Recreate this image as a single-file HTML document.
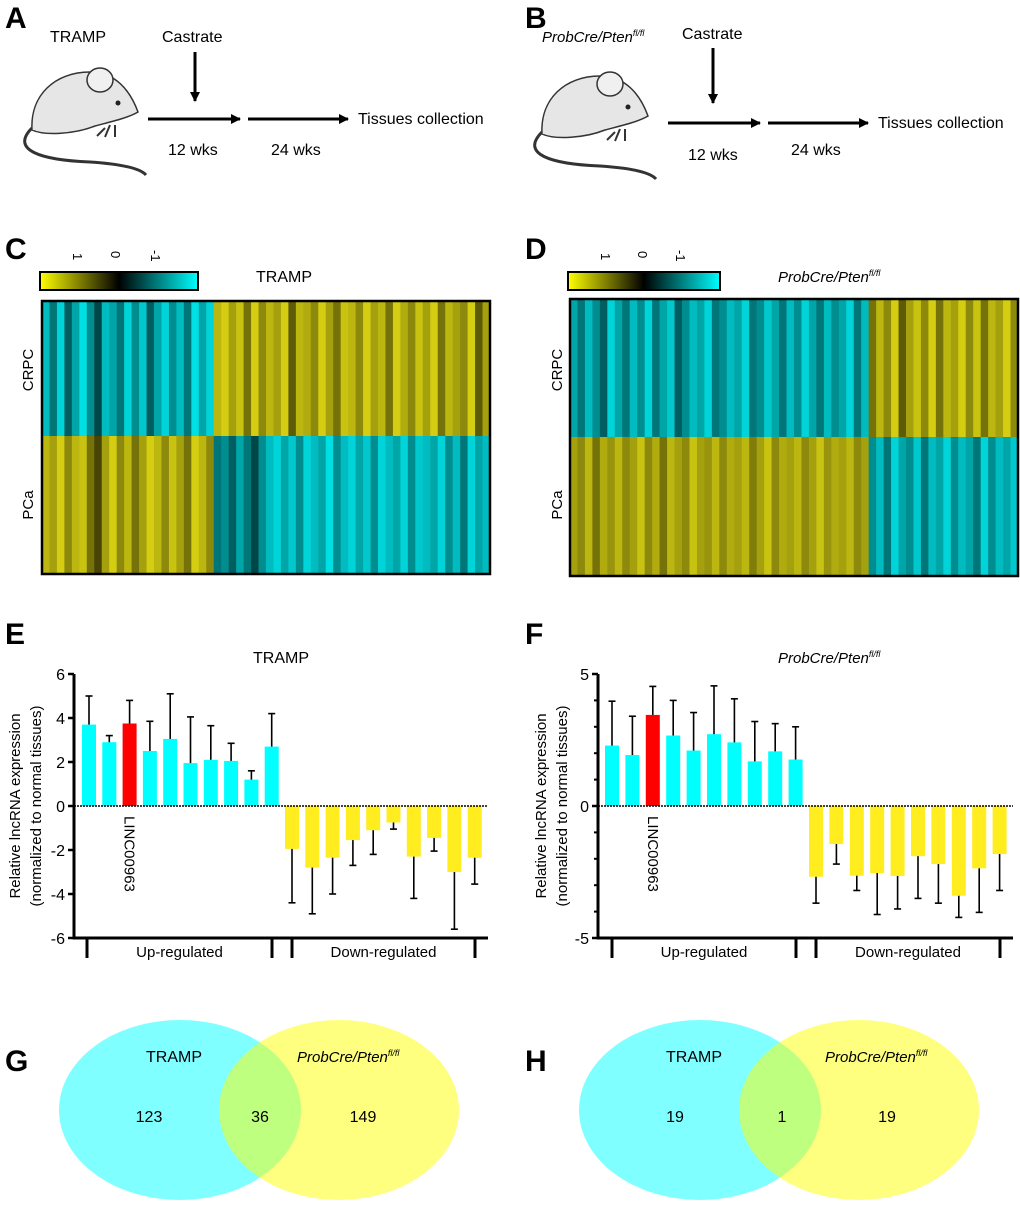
<!DOCTYPE html>
<html><head><meta charset="utf-8">
<style>
html,body{margin:0;padding:0;background:#fff;}
svg{display:block;font-family:"Liberation Sans",Arial,sans-serif;}
</style></head>
<body>
<svg id="fig" width="1020" height="1229" viewBox="0 0 1020 1229" xmlns="http://www.w3.org/2000/svg">
<defs>
<marker id="ah" markerWidth="10" markerHeight="10" refX="9" refY="5" orient="auto" markerUnits="userSpaceOnUse"><path d="M0,0 L10,5 L0,10 z" fill="#000"/></marker>
<linearGradient id="cbar" x1="0" x2="1" y1="0" y2="0">
<stop offset="0" stop-color="#ffff00"/><stop offset="0.5" stop-color="#000"/><stop offset="1" stop-color="#00ffff"/></linearGradient>
</defs>
<g font-weight="bold" font-size="30">
<text x="5" y="28">A</text><text x="525" y="28">B</text>
<text x="5" y="259">C</text><text x="525" y="259">D</text>
<text x="5" y="644">E</text><text x="525" y="644">F</text>
<text x="5" y="1071">G</text><text x="525" y="1071">H</text>
</g>
<!-- Panel A -->
<g id="mouseA">
<path d="M32,128 C10,150 40,160 90,162 C120,164 140,168 146,175" fill="none" stroke="#333" stroke-width="3"/>
<path d="M32,130 C30,95 55,72 90,72 C115,72 130,90 138,112 C128,118 110,122 95,126 C75,134 45,136 32,130z" fill="#e6e6e6" stroke="#333" stroke-width="1.5"/>
<ellipse cx="100" cy="80" rx="13" ry="12" fill="#f0f0f0" stroke="#333" stroke-width="1.5"/>
<circle cx="118" cy="103" r="2.5" fill="#222"/>
<path d="M110,125 l-5,12 M115,125 l0,12 M105,128 l-8,8" stroke="#333" stroke-width="2"/>
</g>
<g font-size="16">
<text x="50" y="42">TRAMP</text>
<text x="162" y="42">Castrate</text>
<line x1="195" y1="52" x2="195" y2="101" stroke="#000" stroke-width="3" marker-end="url(#ah)"/>
<line x1="148" y1="119" x2="240" y2="119" stroke="#000" stroke-width="3" marker-end="url(#ah)"/>
<line x1="248" y1="119" x2="348" y2="119" stroke="#000" stroke-width="3" marker-end="url(#ah)"/>
<text x="358" y="124">Tissues collection</text>
<text x="168" y="155">12 wks</text>
<text x="271" y="155">24 wks</text>
</g>
<!-- Panel B -->
<g transform="translate(510,4)">
<use href="#mouseA"/>
</g>
<g font-size="16">
<text x="542" y="42" font-style="italic" font-size="15">ProbCre/Pten<tspan dy="-6" font-size="9">fl/fl</tspan></text>
<text x="682" y="39">Castrate</text>
<line x1="713" y1="48" x2="713" y2="103" stroke="#000" stroke-width="3" marker-end="url(#ah)"/>
<line x1="668" y1="123" x2="760" y2="123" stroke="#000" stroke-width="3" marker-end="url(#ah)"/>
<line x1="768" y1="123" x2="868" y2="123" stroke="#000" stroke-width="3" marker-end="url(#ah)"/>
<text x="878" y="128">Tissues collection</text>
<text x="688" y="160">12 wks</text>
<text x="791" y="155">24 wks</text>
</g>
<!-- Colorbars -->
<g>
<rect x="40" y="272" width="158" height="18" fill="url(#cbar)" stroke="#000" stroke-width="2"/>
<g font-size="13"><text transform="translate(73,253) rotate(90)">1</text><text transform="translate(111,251) rotate(90)">0</text><text transform="translate(151,250) rotate(90)">-1</text></g>
</g>
<text x="256" y="282" font-size="16">TRAMP</text>
<g>
<rect x="568" y="272" width="152" height="18" fill="url(#cbar)" stroke="#000" stroke-width="2"/>
<g font-size="13"><text transform="translate(601,253) rotate(90)">1</text><text transform="translate(638,251) rotate(90)">0</text><text transform="translate(676,250) rotate(90)">-1</text></g>
</g>
<text x="778" y="282" font-size="15" font-style="italic">ProbCre/Pten<tspan dy="-6" font-size="9">fl/fl</tspan></text>
<g id="hmC"></g>
<g id="hmD"></g>
<g font-size="15">
<text transform="translate(33,370) rotate(-90)" text-anchor="middle">CRPC</text>
<text transform="translate(33,505) rotate(-90)" text-anchor="middle">PCa</text>
<text transform="translate(562,370) rotate(-90)" text-anchor="middle">CRPC</text>
<text transform="translate(562,505) rotate(-90)" text-anchor="middle">PCa</text>
</g>
<g id="chartE"></g>
<g id="chartF"></g>
<text x="253" y="663" font-size="16">TRAMP</text>
<text x="778" y="663" font-size="15" font-style="italic">ProbCre/Pten<tspan dy="-6" font-size="9">fl/fl</tspan></text>
<!-- Venns -->
<g>
<ellipse cx="180" cy="1110" rx="121" ry="90" fill="#00ffff" fill-opacity="0.5"/>
<ellipse cx="339" cy="1110" rx="120" ry="90" fill="#ffff00" fill-opacity="0.5"/>
<text x="146" y="1062" font-size="16">TRAMP</text>
<text x="297" y="1062" font-size="15" font-style="italic">ProbCre/Pten<tspan dy="-6" font-size="9">fl/fl</tspan></text>
<g font-size="16" text-anchor="middle"><text x="149" y="1122">123</text><text x="260" y="1122">36</text><text x="363" y="1122">149</text></g>
</g>
<g>
<ellipse cx="700" cy="1110" rx="121" ry="90" fill="#00ffff" fill-opacity="0.5"/>
<ellipse cx="859" cy="1110" rx="120" ry="90" fill="#ffff00" fill-opacity="0.5"/>
<text x="666" y="1062" font-size="16">TRAMP</text>
<text x="825" y="1062" font-size="15" font-style="italic">ProbCre/Pten<tspan dy="-6" font-size="9">fl/fl</tspan></text>
<g font-size="16" text-anchor="middle"><text x="675" y="1122">19</text><text x="782" y="1122">1</text><text x="887" y="1122">19</text></g>
</g>
</svg>
<script>
const NS='http://www.w3.org/2000/svg';
// Heatmap data: column z-scores (positive = yellow, negative = cyan)
const hmCTop=[-0.8,-0.5,-0.9,-0.4,-0.7,-0.95,-0.6,-0.3,-0.8,-0.7,-0.5,-0.9,-0.6,-0.85,-0.4,-0.7,-0.9,-0.6,-0.8,-0.5,-0.95,-0.7,-0.9,0.8,0.9,0.7,0.85,0.5,0.9,0.6,0.8,0.7,0.9,0.4,0.8,0.75,0.6,0.9,0.7,0.5,0.85,0.8,0.6,0.9,0.7,0.8,0.5,0.9,0.75,0.6,0.85,0.7,0.9,0.5,0.8,0.7,0.6,0.9,0.4,0.7];
const hmCBot=[0.8,0.7,0.9,0.6,0.8,0.85,0.5,0.3,0.7,0.9,0.6,0.8,0.5,0.7,0.9,0.8,0.6,0.85,0.7,0.5,0.9,0.8,0.6,-0.5,-0.6,-0.4,-0.7,-0.5,-0.3,-0.6,-0.8,-0.9,-0.7,-0.85,-0.6,-0.9,-0.8,-0.7,-0.95,-0.6,-0.8,-0.9,-0.7,-0.85,-0.6,-0.9,-0.8,-0.7,-0.9,-0.6,-0.85,-0.8,-0.7,-0.9,-0.6,-0.8,-0.5,-0.9,-0.7,-0.8];
const hmDTop=[-0.7,-0.5,-0.8,-0.6,-0.4,-0.9,-0.7,-0.5,-0.8,-0.6,-0.9,-0.5,-0.7,-0.85,-0.4,-0.6,-0.8,-0.7,-0.9,-0.5,-0.6,-0.8,-0.7,-0.9,-0.5,-0.6,-0.85,-0.7,-0.5,-0.8,-0.6,-0.9,-0.7,-0.5,-0.8,-0.6,-0.7,-0.9,-0.5,-0.8,0.5,0.8,0.6,0.9,0.4,0.7,0.85,0.6,0.9,0.5,0.8,0.7,0.9,0.6,0.85,0.5,0.8,0.7,0.9,0.6];
const hmDBot=[0.7,0.6,0.8,0.5,0.75,0.65,0.8,0.6,0.7,0.85,0.6,0.75,0.5,0.8,0.7,0.6,0.85,0.7,0.65,0.8,0.6,0.75,0.7,0.8,0.55,0.7,0.85,0.6,0.75,0.7,0.8,0.6,0.7,0.85,0.65,0.75,0.7,0.8,0.6,0.7,-0.6,-0.8,-0.5,-0.9,-0.7,-0.6,-0.85,-0.5,-0.8,-0.7,-0.9,-0.6,-0.8,-0.7,-0.5,-0.9,-0.6,-0.8,-0.7,-0.85];
function zcol(v){const a=Math.min(1,Math.abs(v));
 if(v>=0) return `rgb(${Math.round(235*a)},${Math.round(228*a)},${Math.round(20*a)})`;
 return `rgb(0,${Math.round(235*a)},${Math.round(240*a)})`;}
function heat(gid,top,bot,x0,y0,w,h,mid){
 const g=document.getElementById(gid);const n=top.length;const cw=w/n;
 const xs=i=>x0+i*cw;
 [[top,y0,mid-y0],[bot,mid,y0+h-mid]].forEach(([arr,yy,hh])=>{
  arr.forEach((v,i)=>{const r=document.createElementNS(NS,'rect');
   r.setAttribute('x',xs(i));r.setAttribute('y',yy);r.setAttribute('width',cw+0.6);r.setAttribute('height',hh);
   r.setAttribute('fill',zcol(v));
   
   
   g.appendChild(r);});});
 const b=document.createElementNS(NS,'rect');b.setAttribute('x',x0);b.setAttribute('y',y0);b.setAttribute('width',w);b.setAttribute('height',h);
 b.setAttribute('fill','none');b.setAttribute('stroke','#000');b.setAttribute('stroke-width','2.5');
 
 
 g.appendChild(b);}
heat('hmC',hmCTop,hmCBot,42,301,448,273,436);
heat('hmD',hmDTop,hmDBot,570,299,448,277,437);

// Bar chart data
const eMeans=[3.7,2.9,3.75,2.5,3.05,1.95,2.1,2.05,1.2,2.7,-1.95,-2.8,-2.35,-1.55,-1.1,-0.75,-2.3,-1.45,-3.0,-2.35];
const eErr=[5.0,3.2,4.8,3.85,5.1,4.05,3.65,2.85,1.6,4.2,-4.4,-4.9,-4.0,-2.7,-2.2,-1.05,-4.2,-2.05,-5.6,-3.55];
const eTicks=[6,4,2,0,-2,-4,-6];
const fMeans=[2.29,1.93,3.45,2.67,2.1,2.72,2.41,1.69,2.07,1.76,-2.68,-1.44,-2.64,-2.54,-2.65,-1.9,-2.2,-3.4,-2.36,-1.82];
const fErr=[3.97,3.4,4.53,4.0,3.54,4.55,4.06,3.2,3.12,3.0,-3.68,-2.2,-3.2,-4.11,-3.9,-3.5,-3.68,-4.22,-4.03,-3.2];
const fTicks=[5,0,-5];
const fMinor=[4,3,2,1,-1,-2,-3,-4];
const highlightIndex=2;
function mk(g,tag,attrs,name){const e=document.createElementNS(NS,tag);for(const k in attrs)e.setAttribute(k,attrs[k]);
 
 
 g.appendChild(e);return e;}
function bars(gid,means,errs,ticks,minor,o){
 const g=document.getElementById(gid);
 const y=v=>o.zero-(v*o.ppu);
 const x=i=>o.bx0+i*o.pitch;
 means.forEach((m,i)=>{
  const col=i===highlightIndex?'#ff0000':(i<10?'#00ffff':'#ffed20');
  const top=Math.min(y(m),y(0)),hh=Math.abs(y(m)-y(0));
  mk(g,'rect',{x:x(i),y:top,width:o.bw,height:hh,fill:col},i<10?'bar-up':'bar-down');
  const cx=x(i)+o.bw/2;
  mk(g,'line',{x1:cx,x2:cx,y1:y(m),y2:y(errs[i]),stroke:'#000','stroke-width':1.6},'error-bar');
  mk(g,'line',{x1:cx-3.5,x2:cx+3.5,y1:y(errs[i]),y2:y(errs[i]),stroke:'#000','stroke-width':1.6},'error-cap');
 });
 mk(g,'line',{x1:o.ax,x2:o.ax,y1:y(ticks[0]),y2:y(ticks[ticks.length-1])+1.5,stroke:'#000','stroke-width':3},'y-axis');
 mk(g,'line',{x1:o.ax,x2:o.xend,y1:y(ticks[ticks.length-1]),y2:y(ticks[ticks.length-1]),stroke:'#000','stroke-width':3},'x-axis');
 mk(g,'line',{x1:o.ax,x2:o.xend,y1:y(0),y2:y(0),stroke:'#000','stroke-width':1.5,'stroke-dasharray':'2,1'},'zero-line');
 ticks.forEach(t=>{mk(g,'line',{x1:o.ax-6,x2:o.ax,y1:y(t),y2:y(t),stroke:'#000','stroke-width':2.5},'y-tick');
  const tx=mk(g,'text',{x:o.ax-9,y:y(t)+6,'text-anchor':'end','font-size':16},'y-tick-label');tx.textContent=t;});
 minor.forEach(t=>mk(g,'line',{x1:o.ax-4,x2:o.ax,y1:y(t),y2:y(t),stroke:'#000','stroke-width':2},'y-minor-tick'));
 const by=y(ticks[ticks.length-1]);
 o.br.forEach(bx=>mk(g,'line',{x1:bx,x2:bx,y1:by,y2:by+20,stroke:'#000','stroke-width':3},'group-bracket'));
 let t=mk(g,'text',{x:(o.br[0]+o.br[1])/2,y:by+19,'text-anchor':'middle','font-size':15},'group-label-up');t.textContent='Up-regulated';
 t=mk(g,'text',{x:(o.br[2]+o.br[3])/2,y:by+19,'text-anchor':'middle','font-size':15},'group-label-down');t.textContent='Down-regulated';
 t=mk(g,'text',{transform:`translate(${x(highlightIndex)+o.bw/2-5},${y(0)+10}) rotate(90)`,'font-size':15},'linc00963-label');t.textContent='LINC00963';
 t=mk(g,'text',{transform:`translate(${o.yt},${y(0)}) rotate(-90)`,'text-anchor':'middle','font-size':15},'y-axis-title');
 t.innerHTML=`<tspan x="0" dy="0">Relative lncRNA expression</tspan><tspan x="0" dy="21">(normalized to normal tissues)</tspan>`;
}
bars('chartE',eMeans,eErr,eTicks,[],{zero:806,ppu:22,bx0:82,pitch:20.3,bw:14,ax:74,xend:488,br:[87,272,292,475],yt:20});
bars('chartF',fMeans,fErr,fTicks,fMinor,{zero:806,ppu:26.4,bx0:605,pitch:20.4,bw:14,ax:598,xend:1013,br:[612,796,816,1000],yt:546});
</script>
</body></html>
